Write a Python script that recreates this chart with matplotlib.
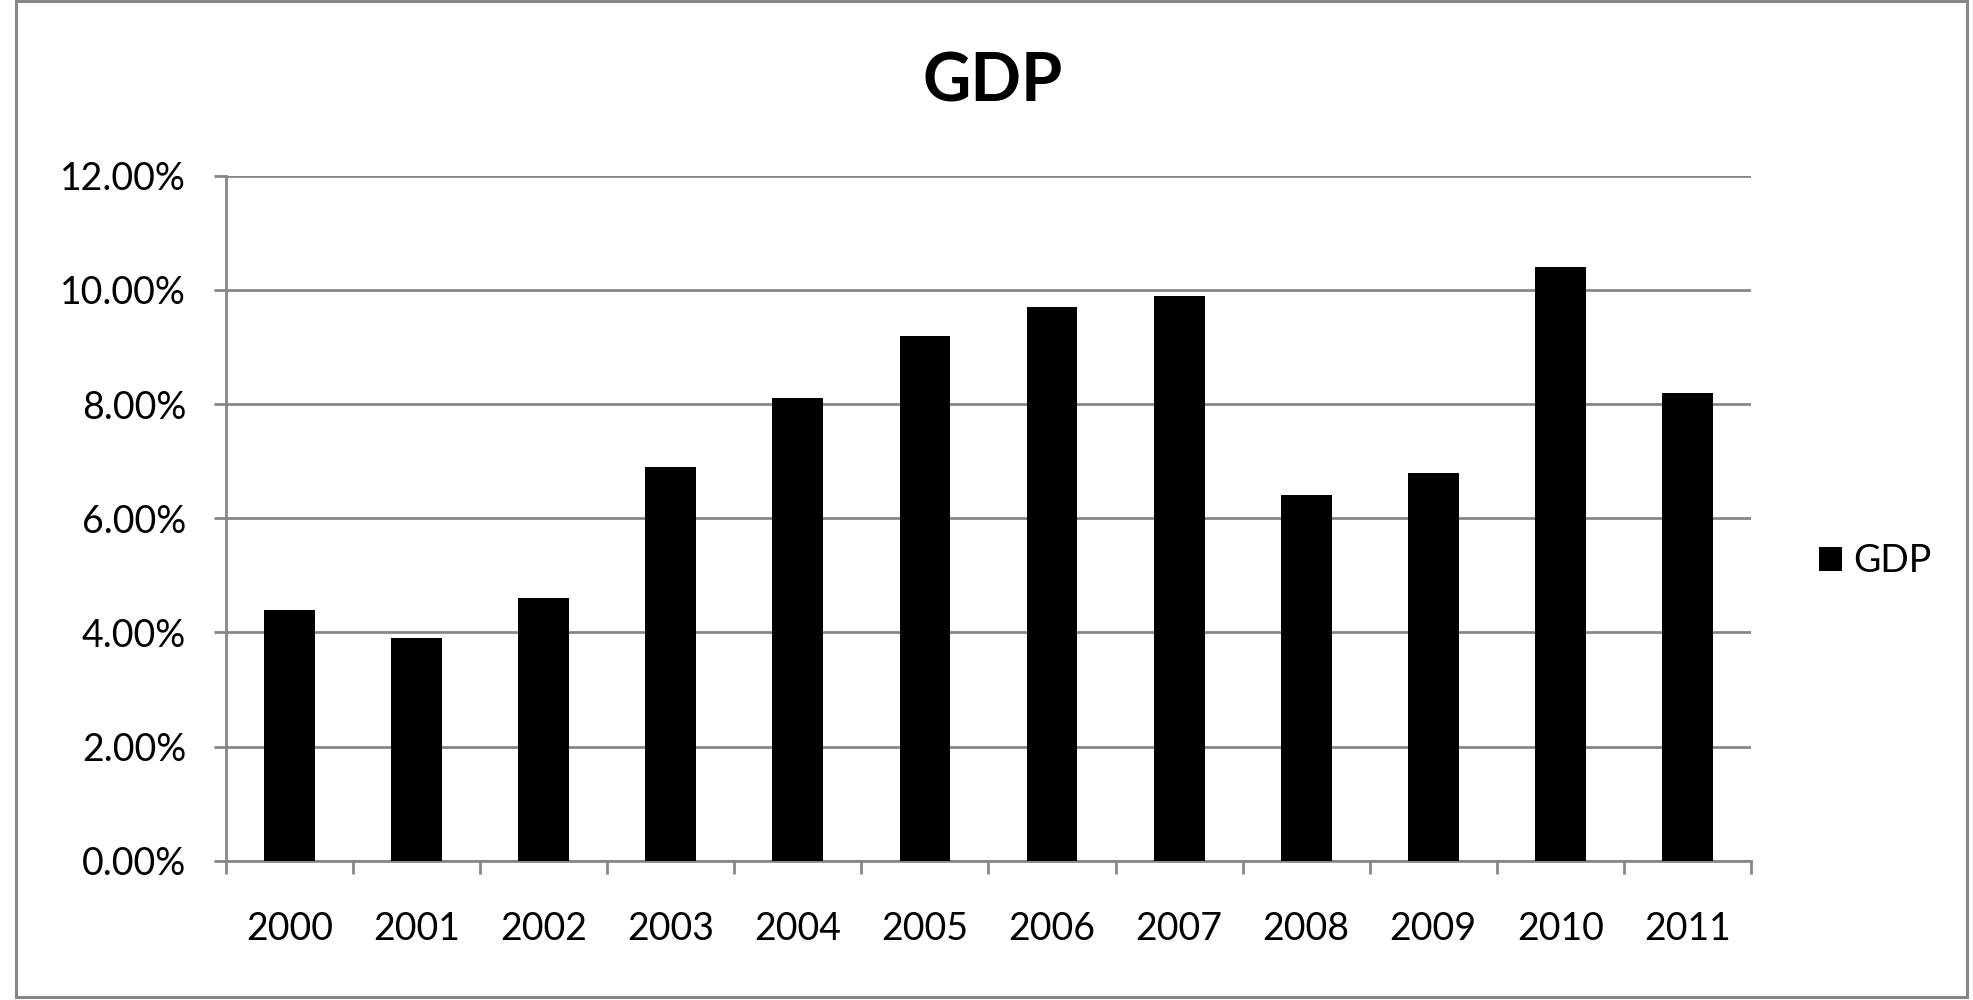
import matplotlib
matplotlib.use("Agg")
import matplotlib.pyplot as plt
from matplotlib.patches import Rectangle
from matplotlib.ticker import FixedLocator, FuncFormatter

years = ["2000", "2001", "2002", "2003", "2004", "2005",
         "2006", "2007", "2008", "2009", "2010", "2011"]
gdp = [4.4, 3.9, 4.6, 6.9, 8.1, 9.2, 9.7, 9.9, 6.4, 6.8, 10.4, 8.2]
y_ticks = [0, 2, 4, 6, 8, 10, 12]

grey = "#878787"
plt.rcParams["font.family"] = ["Lato", "DejaVu Sans"]

fig = plt.figure(figsize=(19.73, 10), dpi=100)
ax = fig.add_axes([0.1145, 0.1393, 0.773, 0.685])

x = list(range(len(years)))
ax.bar(x, gdp, width=0.4, color="black", label="GDP", zorder=3)

ax.set_xlim(-0.5, len(years) - 0.5)
ax.set_ylim(0, 12)

# ticks between categories, labels centred on bars
ax.xaxis.set_major_locator(FixedLocator([i - 0.5 for i in range(len(years) + 1)]))
ax.xaxis.set_major_formatter(FuncFormatter(lambda v, p: ""))
ax.xaxis.set_minor_locator(FixedLocator(x))
ax.set_xticklabels(years, minor=True)
ax.tick_params(axis="x", which="major", direction="out", length=9.4,
               width=2, color=grey)
ax.tick_params(axis="x", which="minor", length=0, pad=36, labelsize=27)

ax.set_yticks(y_ticks)
ax.yaxis.set_major_formatter(FuncFormatter(lambda v, p: f"{v:.2f}%"))
ax.tick_params(axis="y", direction="out", length=8.6, width=2, color=grey,
               pad=20, labelsize=27)

ax.grid(axis="y", color=grey, linewidth=2, zorder=0)
for side in ["top", "right"]:
    ax.spines[side].set_visible(False)
for side in ["left", "bottom"]:
    ax.spines[side].set_color(grey)
    ax.spines[side].set_linewidth(2)

ax.legend(loc="center left", bbox_to_anchor=(1.0446, 0.4375), frameon=False,
          fontsize=27, handlelength=0.6, handleheight=0.6, handletextpad=0.32,
          borderpad=0, borderaxespad=0)

fig.text(0.503, 0.918, "GDP", ha="center", va="center",
         fontsize=48, fontweight="bold")

fig.patches.append(Rectangle((0.0081, 0.0033), 0.9887, 0.9957,
                             transform=fig.transFigure, fill=False,
                             edgecolor=grey, linewidth=2.2))

fig.savefig("out.png", dpi=100)
